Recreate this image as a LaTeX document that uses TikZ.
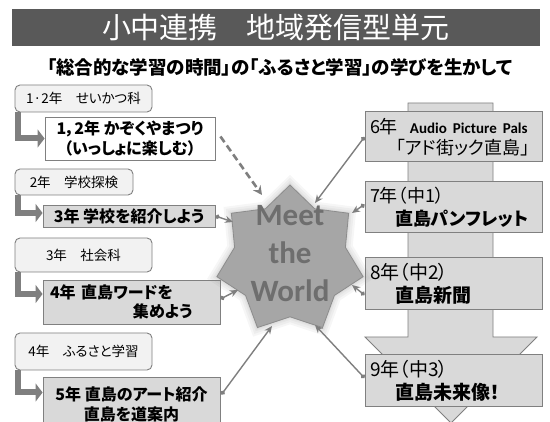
\documentclass[tikz,border=0pt]{standalone}
\usepackage{fontspec}
\setmainfont{Noto Sans CJK JP}[RawFeature={+palt}]
\newfontfamily\calib{Carlito}
\usetikzlibrary{arrows.meta,shapes.geometric,calc}
\definecolor{bar}{HTML}{595959}
\definecolor{lineg}{HTML}{808080}
\definecolor{abg}{HTML}{F2F2F2}
\definecolor{boxg}{HTML}{D9D9D9}
\definecolor{conng}{HTML}{7F7F7F}
\definecolor{starfill}{HTML}{A6A6A6}
\definecolor{stardraw}{HTML}{8C8C8C}
\definecolor{startext}{HTML}{6E6E6E}
\tikzset{
  abox/.style={draw=lineg, fill=abg, rounded corners=5pt, line width=0.9pt, inner sep=0pt, font=\fontsize{13.5}{16}\selectfont},
  bbox/.style={draw=lineg, fill=boxg, line width=0.9pt, inner sep=0pt, align=center, font=\bfseries\fontsize{16}{20}\selectfont},
  rbox/.style={draw=lineg, fill=boxg, line width=1pt, inner xsep=5pt, inner ysep=0pt, text width=167pt, align=left, minimum height=51pt, font=\fontsize{18}{23}\selectfont},
  conn/.style={draw=conng, line width=1.4pt, arrows={Circle[length=4.5pt]-Stealth[length=8pt,width=7pt]}},
  dconn/.style={draw=conng, line width=2.6pt, dash pattern=on 7pt off 4pt, arrows={-Stealth[length=9pt,width=9pt]}},
  larrow/.style={draw=conng, line width=6pt, line join=miter, arrows={-Triangle[length=7pt,width=18pt]}},
  starsh/.style={star, star points=7, star point ratio=1.32, inner sep=0pt}
}
\begin{document}
\begin{tikzpicture}[x=1pt,y=-1pt]
\clip (0,0) rectangle (550,422);
\fill[white] (0,0) rectangle (550,422);

% title and subtitle
\node[fill=bar, minimum width=528pt, minimum height=37pt, inner sep=0pt, text=white, font=\fontsize{29}{30}\selectfont] (title) at (276,27.5) {小中連携　地域発信型単元};
\node[inner sep=0pt, font=\bfseries\fontsize{18.5}{20}\selectfont] (sub) at (280,67) {「総合的な学習の時間」の「ふるさと学習」の学びを生かして};

% background arrow (right column)
\draw[draw=lineg, fill=boxg, line width=0.9pt] (408,103) -- (493,103) -- (493,337) -- (537,337) -- (451,423) -- (365,337) -- (408,337) -- cycle;

% left column
\node[abox, minimum width=137pt, minimum height=27pt] (a1) at (83.5,98.5) {1·2年　せいかつ科};
\node[bbox, fill=white, minimum width=170pt, minimum height=43pt] (b1) at (130,138.5) {1，2年 かぞくやまつり\\（いっしょに楽しむ）};
\node[abox, minimum width=118pt, minimum height=26pt] (a2) at (74,182) {2年　学校探検};
\node[bbox, minimum width=172pt, minimum height=22pt] (b2) at (129,216) {3年 学校を紹介しよう};
\node[abox, minimum width=137pt, minimum height=34pt] (a3) at (83.5,255) {3年　社会科};
\node[bbox, minimum width=177pt, minimum height=44pt, align=left, text width=163pt, inner xsep=7pt, font=\bfseries\fontsize{16}{19}\selectfont] (b3) at (131.5,302) {4年 直島ワードを\\\hspace*{83pt}集めよう};
\node[abox, minimum width=137pt, minimum height=37pt] (a4) at (83.5,351.5) {4年　ふるさと学習};
\node[bbox, minimum width=177pt, minimum height=55pt] (b4) at (131.5,404.5) {5年 直島のアート紹介\\直島を道案内};

% L-shaped arrows
\coordinate (l1) at (b1.west);
\coordinate (l2) at ($(b2.west)+(0,-3)$);
\coordinate (l3) at ($(b3.west)+(0,-8)$);
\coordinate (l4) at ($(b4.west)+(0,-12)$);
\draw[larrow] ([xshift=3.5pt]a1.south west) |- (l1);
\draw[larrow] ([xshift=3.5pt]a2.south west) |- (l2);
\draw[larrow] ([xshift=3.5pt]a3.south west) |- (l3);
\draw[larrow] ([xshift=3.5pt]a4.south west) |- (l4);

% right column boxes
\node[rbox, minimum height=50pt, font=\fontsize{18}{21}\selectfont] (r6) at (453.5,137) {6年\hspace{12pt}{\calib\bfseries\fontsize{15}{15}\selectfont Audio Picture Pals}\\\hspace*{26pt}「アド街ック直島」};
\node[rbox] (r7) at (453.5,207.5) {7年（中1）\\\hspace*{25pt}\textbf{直島パンフレット}};
\node[rbox, minimum height=52pt, font=\fontsize{19}{23}\selectfont] (r8) at (453.5,284) {8年（中2）\\\hspace*{25pt}\textbf{直島新聞}};
\node[rbox, minimum height=52pt, font=\fontsize{19}{23}\selectfont] (r9) at (453.5,381) {9年（中3）\\\hspace*{25pt}\textbf{直島未来像！}};

% star with glow
\foreach \s in {170,164,158,154}
  \node[starsh, minimum size=\s pt, fill=gray, fill opacity=0.07] (glow\s) at (290,260) {};
\node[starsh, minimum size=150pt, fill=starfill, draw=stardraw, line width=0.8pt] (star) at (290,260) {};
\node[inner sep=0pt, align=center, text=startext, font=\calib\bfseries\fontsize{31}{38}\selectfont] (mtw) at (290,254) {Meet\\the\\World};

% connectors to the star
\coordinate (s1) at (262,195);
\coordinate (s2) at (233,222);
\coordinate (s3) at (238,290);
\coordinate (s4) at (272,326);
\coordinate (s5) at (315,203);
\coordinate (s6) at (352,213);
\coordinate (s7) at (352,285);
\coordinate (s8) at (315,325);
\draw[dconn] ($(b1.east)+(5,-2)$) -- (s1);
\draw[conn] (b2.east) -- (s2);
\draw[conn] ($(b3.east)+(0,-3)$) -- (s3);
\draw[conn] ($(b4.east)+(1,-10)$) -- (s4);
\draw[conn] (r6.west) -- (s5);
\draw[conn] ($(r7.west)+(0,-3)$) -- (s6);
\draw[conn] ($(r8.west)+(0,11)$) -- (s7);
\draw[conn] ($(r9.west)+(0,-3)$) -- (s8);
\end{tikzpicture}
\end{document}
